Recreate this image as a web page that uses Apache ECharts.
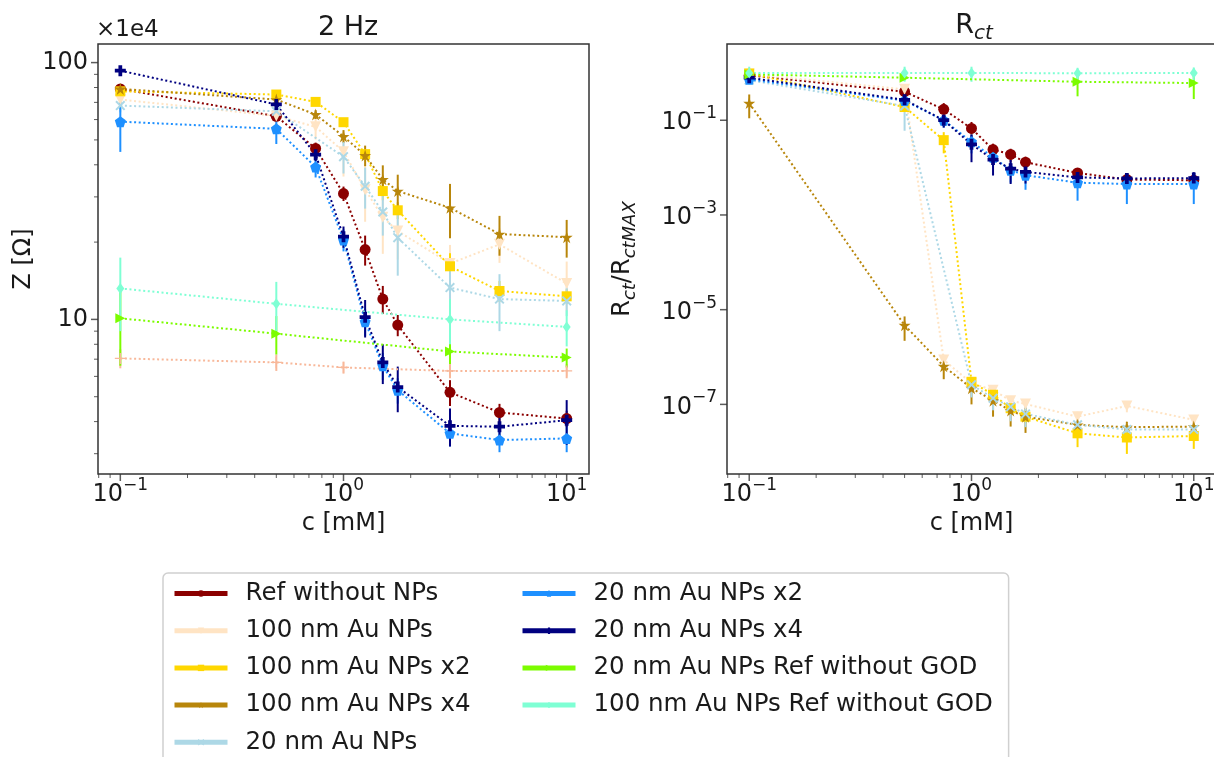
<!DOCTYPE html>
<html><head><meta charset="utf-8">
<script src="https://cdn.jsdelivr.net/npm/echarts@6/dist/echarts.min.js"></script>
<style>html,body{margin:0;padding:0;background:#fff}#chart{width:1214px;height:757px}</style>
</head><body><div id="chart"></div>
<script>
// ---------------- data ----------------
const conc = [0.1, 0.5, 0.75, 1.0, 1.25, 1.5, 1.75, 3, 5, 10];
const names = ['Ref without NPs', '100 nm Au NPs', '100 nm Au NPs x2', '100 nm Au NPs x4',
  '20 nm Au NPs', '20 nm Au NPs x2', '20 nm Au NPs x4',
  '20 nm Au NPs Ref without GOD', '100 nm Au NPs Ref without GOD'];

// 2 Hz impedance, Z [Ohm] x1e4
const zRef      = [79, 61.8, 46.3, 30.9, 18.7, 12.0, 9.5, 5.2, 4.34, 4.11];
const z100      = [71.8, 62, 56.2, 45, 32, 25, 22.1, 16.5, 19.6, 13.8];
const z100x2    = [77.3, 75.1, 70.3, 58.6, 44, 31.6, 26.6, 16.1, 12.9, 12.3];
const z100x4    = [79, 71.8, 62.8, 51.6, 43.5, 35.1, 31.6, 27.2, 21.5, 20.9];
const z20       = [68, 64.6, null, 43.0, 33.0, 26.2, 20.8, 13.3, 12.0, 11.8];
const z20x2     = [58.9, 55.2, 39.2, 20.4, 9.8, 6.6, 5.3, 3.6, 3.39, 3.44];
const z20x4     = [93, 68.7, 43.8, 21.0, 10.2, 6.8, 5.45, 3.85, 3.82, 4.05];
const z20noGOD  = [10.1, 8.8, null, null, null, null, null, 7.5, null, 7.1];
const z100noGOD = [13.2, 11.5, null, null, null, null, null, 10.0, null, 9.35];
const zExtra    = [7.05, 6.8, null, 6.5, null, null, null, 6.3, null, 6.3];

const ezRef      = [3, 2, 2.5, 2, 2.5, 1.5, 0.9, 0.6, 0.35, 0.3];
const ez100      = [4, 4, 6, 9, 8, 7, 5, 3, 3, 3];
const ez100x2    = [2, 2, 2, 2, 2, 2.5, 2, 2, 1.2, 0.8];
const ez100x4    = [2, 2, 2.5, 3, 4, 4.7, 5, 6.5, 3.8, 3.5];
const ez20       = [4, 4, null, 6, 6, 5, 6, 3, 3, 1.5];
const ez20x2     = [14, 7, 3.5, 2, 1.2, 0.8, 0.6, 0.4, 0.35, 0.4];
const ez20x4     = [2, 2.5, 2.5, 2, 1.7, 1.2, 1.1, 0.65, 0.45, 0.8];
const ez20noGOD  = [3.5, 1.5, null, null, null, null, null, 0.8, null, 0.6];
const ez100noGOD = [4.2, 2.5, null, null, null, null, null, 2, null, 1.5];
const ezExtra    = [0.6, 0.5, null, 0.35, null, null, null, 0.4, null, 0.4];

// Rct / RctMAX
const rRef      = [0.89, 0.40, 0.17, 0.067, 0.024, 0.019, 0.013, 0.0077, 0.0056, 0.0054];
const r100      = [0.95, 0.45, 8.7e-7, 2.8e-7, 2.0e-7, 1.2e-7, 1.02e-7, 5.5e-8, 9.3e-8, 4.7e-8];
const r100x2    = [0.97, 0.19, 0.038, 3.0e-7, 1.6e-7, 8.3e-8, 5.5e-8, 2.45e-8, 2.0e-8, 2.15e-8];
const r100x4    = [0.23, 4.7e-6, 6.4e-7, 2.2e-7, 1.2e-7, 7.4e-8, 5.5e-8, 3.7e-8, 3.3e-8, 3.4e-8];
const r20       = [0.70, 0.20, null, 2.6e-7, 1.35e-7, 8.9e-8, 6.3e-8, 3.7e-8, 2.95e-8, 2.95e-8];
const r20x2     = [0.73, 0.26, 0.10, 0.035, 0.0165, 0.0088, 0.0069, 0.0048, 0.0045, 0.0045];
const r20x4     = [0.79, 0.27, 0.10, 0.031, 0.0148, 0.0095, 0.0081, 0.0062, 0.0059, 0.0060];
const r20noGOD  = [0.93, 0.79, null, null, null, null, null, 0.65, null, 0.61];
const r100noGOD = [1.0, 1.0, null, 1.0, null, null, null, 0.98, null, 1.0];

const erRef      = [0.1, 0.08, 0.06, 0.025, 0.008, 0.006, 0.004, 0.002, 0.0012, 0.001];
const er100      = [0.1, 0.06, 2.5e-7, 8e-8, 5e-8, 3e-8, 2e-8, 1.5e-8, 2.5e-8, 1e-8];
const er100x2    = [0.1, 0.04, 0.018, 6e-8, 4e-8, 2e-8, 1.5e-8, 1.2e-8, 1.1e-8, 1e-8];
const er100x4    = [0.12, 2.5e-6, 3e-7, 1.2e-7, 6.5e-8, 4e-8, 3e-8, 1.2e-8, 1e-8, 1e-8];
const er20       = [0.12, 0.14, null, 1.2e-7, 6e-8, 4.5e-8, 3e-8, 1.5e-8, 1e-8, 1e-8];
const er20x2     = [0.1, 0.08, 0.03, 0.015, 0.006, 0.004, 0.0035, 0.0028, 0.0028, 0.0028];
const er20x4     = [0.15, 0.08, 0.03, 0.018, 0.008, 0.005, 0.0035, 0.002, 0.0018, 0.002];
const er20noGOD  = [0.1, 0.1, null, null, null, null, null, 0.33, null, 0.33];
const er100noGOD = [0.35, 0.35, null, 0.35, null, null, null, 0.3, null, 0.3];

// axis ranges and ticks
const xMin = Math.pow(10, -1.1), xMax = Math.pow(10, 1.1);
const zMin = Math.pow(10, 0.398), zMax = Math.pow(10, 2.0724);
const rMin = Math.pow(10, -8.47), rMax = Math.pow(10, 0.61);
const xMajorTicks = [0.1, 1, 10];
const xMinorTicks = [0.08, 0.09, 0.2, 0.3, 0.4, 0.5, 0.6, 0.7, 0.8, 0.9, 2, 3, 4, 5, 6, 7, 8, 9];
const zMajorTicks = [10, 100];
const zMinorTicks = [3, 4, 5, 6, 7, 8, 9, 20, 30, 40, 50, 60, 70, 80, 90];
const rMajorTicks = [1e-7, 1e-5, 1e-3, 1e-1];

// ---------------- styles ----------------
const FONT = 'DejaVu Sans';
const TXT = '#1a1a1a';
const colors = ['#8B0000', '#FFE4C4', '#FFD700', '#B8860B', '#ADD8E6', '#1E90FF', '#000080', '#7CFC00', '#7FFFD4'];
const STAR = 'path://M50,0 L61,35 L98,35 L68,57 L79,91 L50,70 L21,91 L32,57 L2,35 L39,35 Z';
const TRI_DOWN = 'path://M0,0 L100,0 L50,87 Z';
const TRI_RIGHT = 'path://M0,0 L87,50 L0,100 Z';
const XMARK = 'path://M14,0 L50,36 L86,0 L100,14 L64,50 L100,86 L86,100 L50,64 L14,100 L0,86 L36,50 L0,14 Z';
const PLUSF = 'path://M33,0 L67,0 L67,33 L100,33 L100,67 L67,67 L67,100 L33,100 L33,67 L0,67 L0,33 L33,33 Z';
const PLUST = 'path://M44,0 L56,0 L56,44 L100,44 L100,56 L56,56 L56,100 L44,100 L44,56 L0,56 L0,44 L44,44 Z';
const PENT = 'path://M50,0 L98,35 L79,91 L21,91 L2,35 Z';
const symbols = ['circle', TRI_DOWN, 'rect', STAR, XMARK, PENT, PLUSF, TRI_RIGHT, 'diamond'];
const sizes = [11, 11, 10, 12, 10, 11, 11, 10, [8, 11]];

const zSets = [[zRef, ezRef], [z100, ez100], [z100x2, ez100x2], [z100x4, ez100x4], [z20, ez20],
  [z20x2, ez20x2], [z20x4, ez20x4], [z20noGOD, ez20noGOD], [z100noGOD, ez100noGOD]];
const rSets = [[rRef, erRef], [r100, er100], [r100x2, er100x2], [r100x4, er100x4], [r20, er20],
  [r20x2, er20x2], [r20x4, er20x4], [r20noGOD, er20noGOD], [r100noGOD, er100noGOD]];

function lineSeries(name, color, sym, size, g, vals) {
  return {
    type: 'line', name, xAxisIndex: g, yAxisIndex: g,
    data: conc.map((c, i) => [c, vals[i]]).filter(d => d[1] != null),
    symbol: sym, symbolSize: size, showSymbol: true,
    lineStyle: { color, width: 2, type: [2, 2.6] }, itemStyle: { color },
    emphasis: { disabled: true }, animation: false, z: 3
  };
}
function errSeries(color, g, vals, errs) {
  const data = [];
  conc.forEach((c, i) => {
    if (vals[i] != null && errs[i]) {
      const lo = Math.max(vals[i] - errs[i], vals[i] * 1e-3);
      data.push([c, lo, vals[i] + errs[i]]);
    }
  });
  return {
    type: 'custom', xAxisIndex: g, yAxisIndex: g, data, clip: true, silent: true, z: 3,
    animation: false, encode: { x: 0, y: [1, 2] },
    renderItem: (p, api) => {
      const a = api.coord([api.value(0), api.value(1)]);
      const b = api.coord([api.value(0), api.value(2)]);
      return { type: 'line', shape: { x1: a[0], y1: a[1], x2: b[0], y2: b[1] }, style: { stroke: color, lineWidth: 2 } };
    }
  };
}
function tickSeries(g, pts, size, offset) {
  return { type: 'scatter', xAxisIndex: g, yAxisIndex: g, data: pts, symbol: 'rect', symbolSize: size,
    symbolOffset: offset, itemStyle: { color: '#333' }, silent: true, clip: false, z: 6, animation: false };
}
function powLabel(v, allowed) {
  const l = Math.log10(v), e = Math.round(l);
  if (Math.abs(l - e) > 1e-6 || allowed.indexOf(e) < 0) return '';
  return '{b|10}{s|' + (e < 0 ? '\u2212' + (-e) : String(e)) + '}';
}
const supRich = {
  b: { fontSize: 24, fontFamily: FONT, color: TXT, verticalAlign: 'bottom', lineHeight: 30 },
  s: { fontSize: 17, fontFamily: FONT, color: TXT, verticalAlign: 'top', lineHeight: 18 }
};
const subRich = {
  n: { fontSize: 24, fontFamily: FONT, fontWeight: 'normal', color: TXT, verticalAlign: 'top', lineHeight: 28 },
  sub: { fontSize: 18, fontFamily: FONT, fontWeight: 'normal', fontStyle: 'italic', color: TXT, verticalAlign: 'bottom', lineHeight: 10 }
};

const series = [];
// unlisted pale series on the left chart
series.push(errSeries('#F8B89A', 0, zExtra, ezExtra));
series.push(lineSeries('', '#F8B89A', PLUST, 11, 0, zExtra));
zSets.forEach((s, i) => {
  series.push(errSeries(colors[i], 0, s[0], s[1]));
  series.push(lineSeries(names[i], colors[i], symbols[i], sizes[i], 0, s[0]));
});
rSets.forEach((s, i) => {
  series.push(errSeries(colors[i], 1, s[0], s[1]));
  series.push(lineSeries(names[i], colors[i], symbols[i], sizes[i], 1, s[0]));
});
// axis ticks (matplotlib-style, outward)
series.push(tickSeries(0, xMajorTicks.map(v => [v, zMin]), [1.5, 7], [0, 3.5]));
series.push(tickSeries(0, xMinorTicks.map(v => [v, zMin]), [1, 4], [0, 2]));
series.push(tickSeries(0, zMajorTicks.map(v => [xMin, v]), [7, 1.5], [-3.5, 0]));
series.push(tickSeries(0, zMinorTicks.map(v => [xMin, v]), [4, 1], [-2, 0]));
series.push(tickSeries(1, xMajorTicks.map(v => [v, rMin]), [1.5, 7], [0, 3.5]));
series.push(tickSeries(1, xMinorTicks.map(v => [v, rMin]), [1, 4], [0, 2]));
series.push(tickSeries(1, rMajorTicks.map(v => [xMin, v]), [7, 1.5], [-3.5, 0]));

const hidden = { axisLine: { show: false }, axisTick: { show: false }, splitLine: { show: false }, minorTick: { show: false } };
const legendText = { fontSize: 24.5, fontFamily: FONT, color: TXT, padding: [0, 0, 0, 13] };

const option = {
  backgroundColor: '#fff',
  animation: false,
  title: [
    { text: '2 Hz', left: 343, top: 9, textAlign: 'center', textStyle: { fontSize: 27, fontWeight: 'normal', fontFamily: FONT, color: TXT } },
    { text: '{n|R}{sub|ct}', left: 969, top: 7, textAlign: 'center', textStyle: { fontWeight: 'normal', rich: {
      n: { fontSize: 27, fontFamily: FONT, fontWeight: 'normal', color: TXT, verticalAlign: 'top', lineHeight: 32 },
      sub: { fontSize: 20, fontFamily: FONT, fontWeight: 'normal', fontStyle: 'italic', color: TXT, verticalAlign: 'bottom', lineHeight: 12 } } } },
    { text: '\u00d71e4', left: 91, top: 14, textStyle: { fontSize: 23, fontWeight: 'normal', fontFamily: FONT, color: TXT } }
  ],
  grid: [
    { left: 98, top: 44, width: 491, height: 430, show: true, borderColor: '#333', borderWidth: 1.5, containLabel: false, outerBoundsMode: 'none' },
    { left: 727, top: 44, width: 489, height: 430, show: true, borderColor: '#333', borderWidth: 1.5, containLabel: false, outerBoundsMode: 'none' }
  ],
  xAxis: [
    Object.assign({ type: 'log', gridIndex: 0, min: xMin, max: xMax, name: 'c [mM]', nameLocation: 'middle', nameGap: 36,
      nameTextStyle: { fontSize: 24, fontFamily: FONT, color: TXT },
      axisLabel: { margin: 3, formatter: v => powLabel(v, [-1, 0, 1]), rich: supRich } }, hidden),
    Object.assign({ type: 'log', gridIndex: 1, min: xMin, max: xMax, name: 'c [mM]', nameLocation: 'middle', nameGap: 36,
      nameTextStyle: { fontSize: 24, fontFamily: FONT, color: TXT },
      axisLabel: { margin: 3, formatter: v => powLabel(v, [-1, 0, 1]), rich: supRich } }, hidden)
  ],
  yAxis: [
    Object.assign({ type: 'log', gridIndex: 0, min: zMin, max: zMax, name: 'Z [\u03a9]', nameLocation: 'middle', nameGap: 62,
      nameTextStyle: { fontSize: 24, fontFamily: FONT, color: TXT },
      axisLabel: { margin: 10, fontSize: 24, fontFamily: FONT, color: TXT,
        formatter: v => (Math.abs(v - 10) < 1e-6 ? '10' : (Math.abs(v - 100) < 1e-6 ? '100' : '')) } }, hidden),
    Object.assign({ type: 'log', gridIndex: 1, min: rMin, max: rMax,
      name: '{n|R}{sub|ct}{n|/R}{sub|ctMAX}', nameLocation: 'middle', nameGap: 88,
      nameTextStyle: { rich: subRich },
      axisLabel: { margin: 10, formatter: v => powLabel(v, [-1, -3, -5, -7]), rich: supRich } }, hidden)
  ],
  legend: [
    { data: names.slice(0, 5), orient: 'vertical', left: 163, top: 573, height: 180, itemWidth: 53, itemHeight: 8, itemGap: 12.2,
      padding: [8, 538, 40, 9], backgroundColor: 'rgba(255,255,255,0.95)', borderColor: '#d0d0d0', borderWidth: 1.5,
      borderRadius: 5, textStyle: legendText, lineStyle: { width: 5, type: 'solid' }, selectedMode: false },
    { data: names.slice(5), orient: 'vertical', left: 520, top: 581, height: 180, itemWidth: 53, itemHeight: 8, itemGap: 12.2,
      padding: 0, textStyle: legendText, lineStyle: { width: 5, type: 'solid' }, selectedMode: false }
  ],
  series
};
const chart = echarts.init(document.getElementById('chart'), null, { renderer: 'canvas' });
chart.setOption(option);
</script></body></html>
